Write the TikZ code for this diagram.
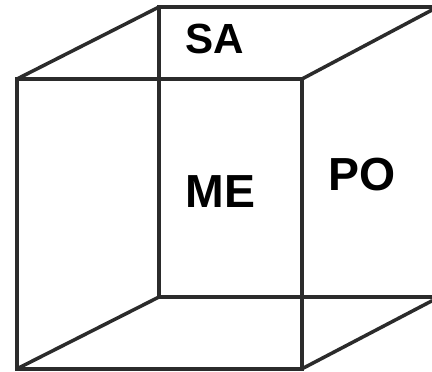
\documentclass[tikz,border=0pt]{standalone}
\usepackage{fontspec}
\setmainfont{Liberation Sans}
\usepackage{xcolor}
\usepackage{tikz}
\definecolor{EdgeGray}{HTML}{2B2B2B}
\tikzset{
  edge/.style={EdgeGray,line width=2.5pt,line cap=round,line join=miter},
  facelabel/.style={anchor=base,text=black,inner sep=0pt,font=\bfseries\fontsize{33}{33}\selectfont}
}
\begin{document}
\begin{tikzpicture}
  \useasboundingbox (0,0) rectangle (10.8,9.3);
  \fill[white] (0,0) rectangle (10.8,9.3);
  % front corners
  \coordinate (frontTL) at (0.425,7.325);
  \coordinate (frontTR) at (7.55,7.325);
  \coordinate (frontBL) at (0.425,0.08);
  \coordinate (frontBR) at (7.55,0.08);
  % back corners, cut by the right edge
  \coordinate (backTL) at (3.975,9.125);
  \coordinate (backBL) at (3.975,1.875);
  \coordinate (backTR) at (10.8,9.125);
  \coordinate (backBR) at (10.8,1.875);
  \coordinate (diagT) at (10.8,9.05);
  \coordinate (diagB) at (10.8,1.78);
  \draw[edge] (frontTL) -- (frontTR) -- (frontBR) -- (frontBL) -- cycle;
  \draw[edge] (backTR) -- (backTL) -- (backBL) -- (backBR);
  \draw[edge] (frontTL) -- (backTL);
  \draw[edge] (frontBL) -- (backBL);
  \draw[edge] (frontTR) -- (diagT);
  \draw[edge] (frontBR) -- (diagB);
  \node[facelabel,font=\bfseries\fontsize{30}{30}\selectfont] (sa) at (5.37,7.95) {SA};
  \node[facelabel] (me) at (5.51,4.1) {ME};
  \node[facelabel] (po) at (9.05,4.525) {PO};
\end{tikzpicture}
\end{document}
